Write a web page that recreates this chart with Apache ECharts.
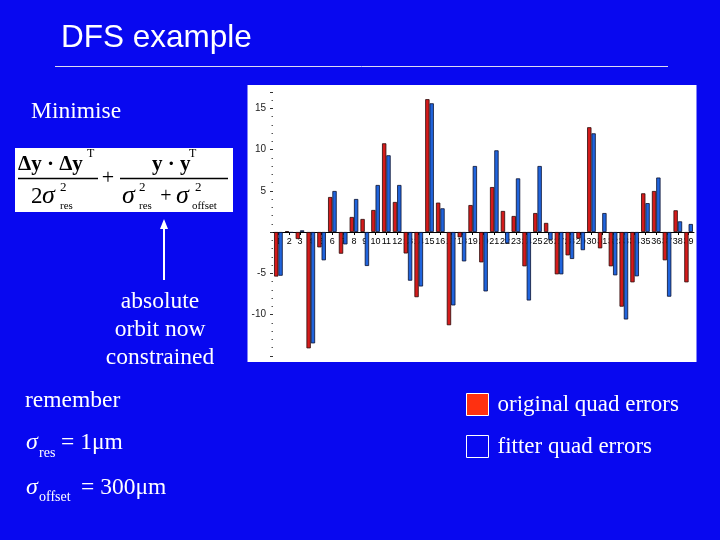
<!DOCTYPE html>
<html><head><meta charset="utf-8">
<script src="https://cdn.jsdelivr.net/npm/echarts@6/dist/echarts.min.js"></script>
<style>html,body{margin:0;padding:0;background:#0808f0}#c{width:720px;height:540px}</style>
</head><body><div id="c"></div><script>
const categories = ['1','2','3','4','5','6','7','8','9','10','11','12','13','14','15','16','17','18','19','20','21','22','23','24','25','26','27','28','29','30','31','32','33','34','35','36','37','38','39'];
const originalErrors = [-5.4, 0.1, -0.85, -14.1, -1.86, 4.24, -2.63, 1.82, 1.58, 2.67, 10.75, 3.64, -2.6, -7.9, 16.1, 3.56, -11.3, -0.65, 3.27, -3.68, 5.45, 2.55, 1.94, -4.16, 2.3, 1.1, -5.13, -2.83, -0.8, 12.7, -1.98, -4.16, -9.05, -6.1, 4.69, 4.97, -3.43, 2.63, -6.1];
const fitterErrors = [-5.3, -0.1, 0.2, -13.5, -3.43, 4.97, -1.5, 4.0, -4.12, 5.7, 9.3, 5.7, -5.9, -6.6, 15.6, 2.87, -8.9, -3.56, 8.0, -7.2, 9.9, -1.37, 6.5, -8.3, 8.0, -0.97, -5.13, -3.27, -2.2, 11.96, 2.3, -5.25, -10.6, -5.37, 3.5, 6.6, -7.84, 1.29, 0.97];
const yTickLabels = {'15':'15','10':'10','5':'5','-5':'-5','-10':'-10'};
const seriesNames = ['original quad errors', 'fitter quad errors'];

const BG = '#0808f0';
const serif = 'Liberation Serif';
const W = '#ffffff';
function t(x, y, text, size, opts) {
  opts = opts || {};
  return { type: 'text', x: x, y: y, z: 10, style: { text: text, fill: opts.fill || W, font: (opts.style || '') + ' ' + (opts.weight || '') + ' ' + size + 'px "' + (opts.family || serif) + '"', align: opts.align || 'left', verticalAlign: 'middle' } };
}
const K = '#000000';
const graphics = [
  { type: 'rect', z: -100, shape: { x: 247.5, y: 85, width: 449, height: 277 }, style: { fill: '#ffffff' } },
  t(61, 38, 'DFS example', 31.5, { family: 'Liberation Sans' }),
  { type: 'line', shape: { x1: 55, y1: 66.5, x2: 668, y2: 66.5 }, style: { stroke: '#dcdcf0', lineWidth: 1 } },
  t(31, 112, 'Minimise', 23.5),
  // formula box
  { type: 'rect', shape: { x: 15, y: 148, width: 218, height: 64 }, style: { fill: '#ffffff' } },
  t(18, 165, 'Δy · Δy', 21, { fill: K, weight: 'bold' }),
  t(87, 154, 'T', 12, { fill: K }),
  { type: 'line', z: 10, shape: { x1: 18, y1: 178.5, x2: 98, y2: 178.5 }, style: { stroke: K, lineWidth: 1.3 } },
  t(31, 197, '2', 23, { fill: K }),
  t(42, 196, 'σ', 26, { fill: K, style: 'italic' }),
  t(60, 188, '2', 13, { fill: K }),
  t(60, 206, 'res', 11, { fill: K }),
  t(108, 178, '+', 22, { fill: K, align: 'center' }),
  { type: 'line', z: 10, shape: { x1: 120, y1: 178.5, x2: 228, y2: 178.5 }, style: { stroke: K, lineWidth: 1.3 } },
  t(152, 165, 'y · y', 21, { fill: K, weight: 'bold' }),
  t(189, 154, 'T', 12, { fill: K }),
  t(122, 196, 'σ', 26, { fill: K, style: 'italic' }),
  t(139, 188, '2', 13, { fill: K }),
  t(139, 206, 'res', 11, { fill: K }),
  t(166, 197, '+', 20, { fill: K, align: 'center' }),
  t(176, 196, 'σ', 26, { fill: K, style: 'italic' }),
  t(195, 188, '2', 13, { fill: K }),
  t(192, 206, 'offset', 11, { fill: K }),
  // arrow
  { type: 'line', shape: { x1: 164, y1: 280, x2: 164, y2: 226 }, style: { stroke: W, lineWidth: 2 } },
  { type: 'polygon', shape: { points: [[164, 219], [160, 229], [168, 229]] }, style: { fill: W } },
  t(160, 302, 'absolute', 23.5, { align: 'center' }),
  t(160, 330, 'orbit now', 23.5, { align: 'center' }),
  t(160, 358, 'constrained', 23.5, { align: 'center' }),
  t(25, 401, 'remember', 23.5),
  t(26, 443, 'σ', 24, { style: 'italic' }),
  t(39, 453, 'res', 14),
  t(61, 443, '= 1μm', 23.5),
  t(26, 488, 'σ', 24, { style: 'italic' }),
  t(39, 497, 'offset', 14),
  t(81, 488, '= 300μm', 23.5)
];

const chart = echarts.init(document.getElementById('c'), null, { renderer: 'canvas' });
chart.setOption({
  backgroundColor: BG,
  animation: false,
  graphic: { elements: graphics },
  legend: {
    orient: 'vertical', left: 466, top: 393, padding: 0,
    itemWidth: 22, itemHeight: 22, itemGap: 19, icon: 'rect',
    selectedMode: false,
    textStyle: { color: W, fontFamily: serif, fontSize: 23, padding: [0, 0, 0, 4] },
    data: [
      { name: seriesNames[0], itemStyle: { color: '#ff3010', borderColor: '#ffffff', borderWidth: 1 } },
      { name: seriesNames[1], itemStyle: { color: BG, borderColor: '#ffffff', borderWidth: 1 } }
    ]
  },
  grid: { left: 273, right: 26, top: 91.75, bottom: 184.25 },
  xAxis: {
    type: 'category', data: categories, offset: -123.75,
    axisLine: { onZero: false, lineStyle: { color: '#000', width: 1 } },
    axisTick: { show: true, alignWithLabel: true, length: 3, lineStyle: { color: '#000' } },
    axisLabel: { interval: 0, fontSize: 9, fontFamily: 'Liberation Sans', color: '#000', margin: 5 },
    splitLine: { show: false }
  },
  yAxis: {
    type: 'value', min: -15, max: 17, interval: 5,
    axisLine: { show: false },
    axisTick: { show: true, length: 3, lineStyle: { color: '#333' } },
    minorTick: { show: true, splitNumber: 5, length: 1.5, lineStyle: { color: '#555' } },
    splitLine: { show: false },
    axisLabel: { fontSize: 10, fontFamily: 'Liberation Sans', color: '#222', margin: 7,
      formatter: function (v) { return yTickLabels[String(v)] || ''; } }
  },
  series: [
    { name: seriesNames[0], type: 'bar', data: originalErrors, barGap: '0%', barCategoryGap: '20%',
      itemStyle: { color: '#d41b1b', borderColor: '#2a0a0a', borderWidth: 0.8 } },
    { name: seriesNames[1], type: 'bar', data: fitterErrors, barGap: '0%', barCategoryGap: '20%',
      itemStyle: { color: '#2064dc', borderColor: '#0a1030', borderWidth: 0.8 } }
  ]
});
</script></body></html>
